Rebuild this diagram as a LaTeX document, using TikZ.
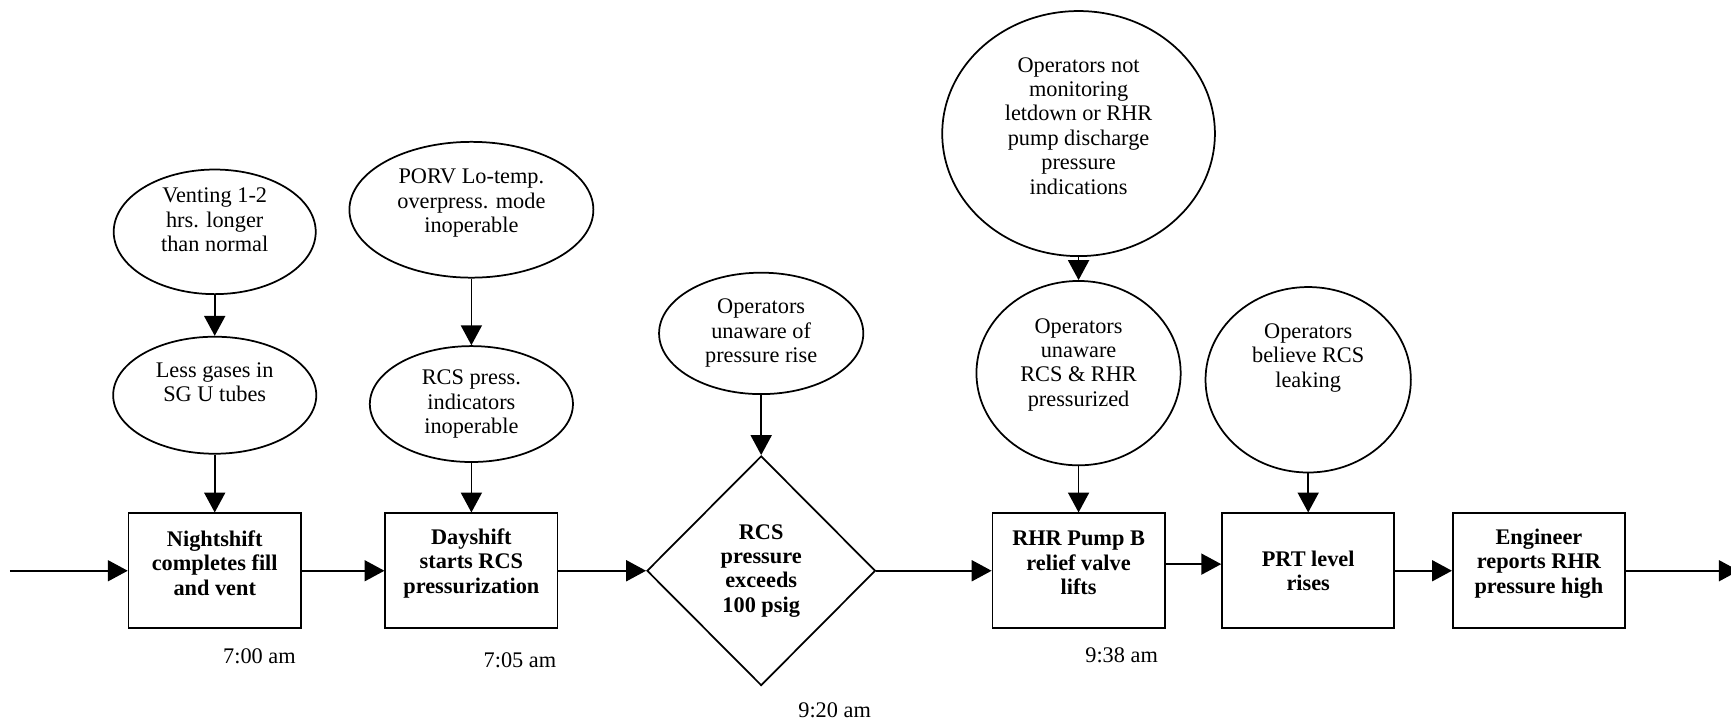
\documentclass[tikz,border=0pt]{standalone}
\usepackage{fontspec}
\setmainfont{Liberation Serif}
\usepackage{tikz}
\usetikzlibrary{shapes,arrows.meta}
\newcommand{\diagfont}{\fontsize{11.5}{12.6}\selectfont}
\newcommand{\padtext}[1]{\\[#1]\mbox{}}
\tikzstyle{cause} = [ellipse, draw=black, line width=0.9pt, inner sep=0pt, align=center, font=\diagfont]
\tikzstyle{event} = [rectangle, draw=black, line width=0.9pt, inner sep=0pt, align=center,
minimum width=3.12cm, minimum height=2.08cm, font=\diagfont\bfseries]
\tikzstyle{check} = [diamond, draw=black, line width=0.9pt, inner sep=0pt, align=center,
minimum width=4.14cm, minimum height=4.16cm, font=\diagfont\bfseries]
\tikzstyle{stamp} = [inner sep=0pt, font=\diagfont]
\tikzstyle{flowArrow} = [line width=0.9pt,-{Triangle[length=0.36cm,width=0.38cm]}]
\begin{document}
\begin{tikzpicture}[node distance=4cm]
		\useasboundingbox (0,0) rectangle (31.36,-13.10);
		%blocks
		\node[event](night) at (3.89,-10.34){Nightshift\\completes fill\\and vent\padtext{-4.5pt}};
		\node[event, right of=night, xshift=0.65cm](day){Dayshift\\starts RCS\\pressurization\padtext{-2.5pt}};
		\node[check, right of=day, xshift=1.25cm](exceed){RCS\\pressure\\exceeds\\100 psig};
		\node[event, right of=exceed, xshift=1.75cm](pumpB){RHR Pump B\\relief valve\\lifts\padtext{-4.5pt}};
		\node[event, right of=pumpB, xshift=0.16cm](prt){PRT level\\rises};
		\node[event, right of=prt, xshift=0.18cm](eng){Engineer\\reports RHR\\pressure high\padtext{-2.5pt}};
		
		%causes
		\node[cause, above of=night, yshift=-0.82cm, minimum width=3.68cm, minimum height=2.12cm](gases){Less gases in\\SG U tubes\padtext{1pt}};
		\node[cause, above of=gases, yshift=-1.04cm, minimum width=3.66cm, minimum height=2.08cm](venting){Venting 1-2\\hrs. longer\\than normal\padtext{0pt}};
		\node[cause, above of=day, yshift=-0.98cm, minimum width=3.68cm, minimum height=2.10cm](rcspress){RCS press.\\indicators\\inoperable};
		\node[cause, above of=rcspress, yshift=-0.48cm, minimum width=4.42cm, minimum height=2.46cm](porv){PORV Lo-temp.\\overpress. mode\\inoperable\padtext{-3.5pt}};
		\node[cause, above of=exceed, yshift=0.30cm, minimum width=3.70cm, minimum height=2.20cm](unawareRise){Operators\\unaware of\\pressure rise};
		\node[cause, above of=pumpB, yshift=-0.42cm, minimum width=3.70cm, minimum height=3.34cm](unawareRHR){Operators\\unaware\\RCS \& RHR\\pressurized\padtext{-1.5pt}};
		\node[cause, above of=unawareRHR, yshift=0.34cm, minimum width=4.94cm, minimum height=4.44cm](notmon){Operators not\\monitoring\\letdown or RHR\\pump discharge\\pressure\\indications\padtext{-4.5pt}};
		\node[cause, above of=prt, yshift=-0.54cm, minimum width=3.72cm, minimum height=3.36cm](believe){Operators\\believe RCS\\leaking\padtext{12.5pt}};
		
		%times
		\node[stamp](tnight) at ([xshift=0.81cm,yshift=-0.49cm]night.south){7:00 am};
		\node[stamp](tday) at ([xshift=0.88cm,yshift=-0.56cm]day.south){7:05 am};
		\node[stamp](texceed) at ([xshift=1.33cm,yshift=-0.44cm]exceed.south){9:20 am};
		\node[stamp](tpumpB) at ([xshift=0.78cm,yshift=-0.48cm]pumpB.south){9:38 am};
		
		\coordinate (begin) at (0.18,-10.34);
		\coordinate (finish) at (31.50,-10.34);
		
		%arrows
		\draw[flowArrow](begin)--(night);
		\draw[flowArrow](night)--(day);
		\draw[flowArrow](day)--(exceed);
		\draw[flowArrow](exceed)--(pumpB);
		\draw[flowArrow]([yshift=0.12cm]pumpB.east)--([yshift=0.12cm]prt.west);
		\draw[flowArrow](prt)--(eng);
		\draw[flowArrow](eng)--(finish);
		\draw[flowArrow](venting)--(gases);
		\draw[flowArrow](gases)--(night);
		\draw[flowArrow](porv)--(rcspress);
		\draw[flowArrow](rcspress)--(day);
		\draw[flowArrow](unawareRise)--(exceed);
		\draw[flowArrow](notmon)--(unawareRHR);
		\draw[flowArrow](unawareRHR)--(pumpB);
		\draw[flowArrow](believe)--(prt);
\end{tikzpicture}
\end{document}
